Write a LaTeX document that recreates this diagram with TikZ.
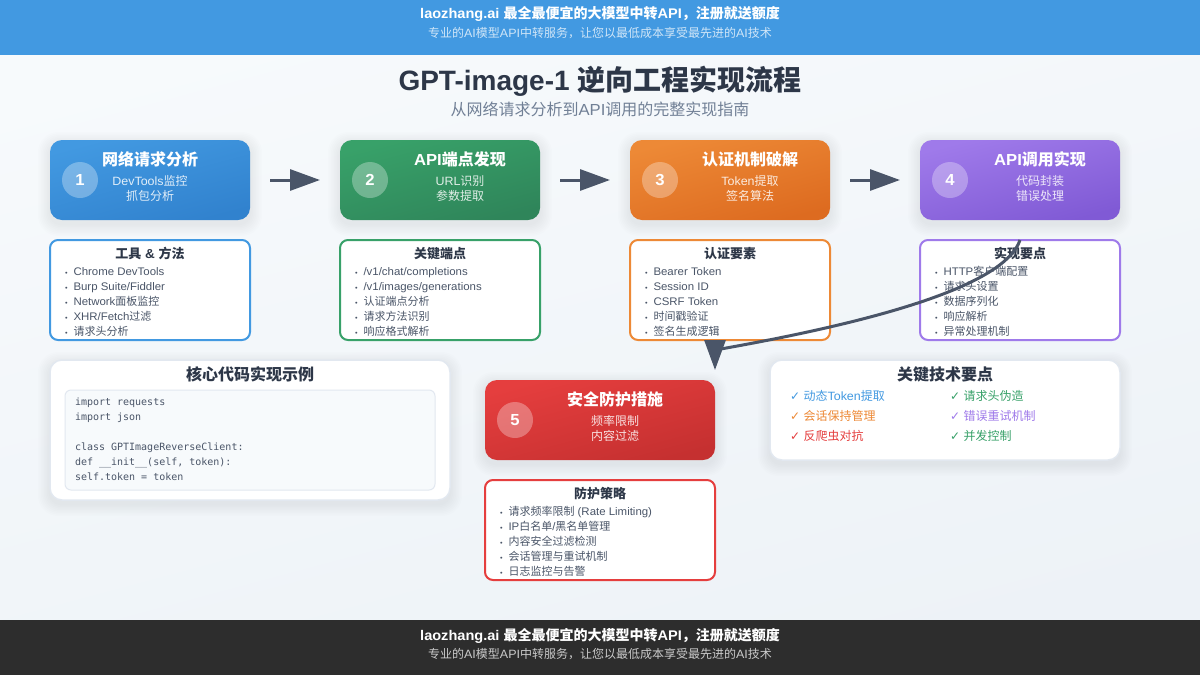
\documentclass[tikz,border=0pt]{standalone}
\usepackage{fontspec}
\setmainfont[FakeStretch=1.04]{Liberation Sans}
\newfontfamily\cjk{Noto Sans CJK SC}
\newfontfamily\plainsans{Liberation Sans}
\newfontfamily\codefont{DejaVu Sans Mono}
\newfontfamily\symfont{DejaVu Sans}
\usetikzlibrary{arrows.meta}
\XeTeXinterchartokenstate=1
\newcount\cjkc
\cjkc="3000
\loop\XeTeXcharclass\cjkc=7 \ifnum\cjkc<"9FFF \advance\cjkc by 1 \repeat
\cjkc="FF00
\loop\XeTeXcharclass\cjkc=7 \ifnum\cjkc<"FFEF \advance\cjkc by 1 \repeat
\XeTeXinterchartoks 0 7 = {\begingroup\cjk}
\XeTeXinterchartoks 4095 7 = {\begingroup\cjk}
\XeTeXinterchartoks 7 0 = {\endgroup}
\XeTeXinterchartoks 7 4095 = {\endgroup}
\definecolor{ink}{HTML}{2D3748}
\definecolor{slate}{HTML}{4A5568}
\definecolor{mist}{HTML}{718096}
\definecolor{edge}{HTML}{E2E8F0}
\definecolor{bgA}{HTML}{F7FAFC}
\definecolor{bgB}{HTML}{EDF2F7}
\definecolor{barTop}{HTML}{4299E1}
\definecolor{barEnd}{HTML}{2D2D2D}
\definecolor{s1a}{HTML}{4299E1}\definecolor{s1b}{HTML}{3182CE}
\definecolor{s2a}{HTML}{38A169}\definecolor{s2b}{HTML}{2F855A}
\definecolor{s3a}{HTML}{ED8936}\definecolor{s3b}{HTML}{DD6B20}
\definecolor{s4a}{HTML}{9F7AEA}\definecolor{s4b}{HTML}{805AD5}
\definecolor{s5a}{HTML}{E53E3E}\definecolor{s5b}{HTML}{C53030}
\newcommand{\softshade}[5]{\foreach \k in {1,...,8}{\fill[black, opacity=.007, rounded corners=#5+\k pt] (#1-\k*1.5,#2+4-\k*1.5) rectangle (#3+\k*1.5,#4+4+\k*1.5);}}
\begin{document}
\begin{tikzpicture}[x=1pt, y=-1pt, every node/.style={inner sep=0pt, outer sep=0pt},
	stepbox/.style={anchor=north west, minimum height=80pt, rounded corners=12pt},
	descbox/.style={anchor=north west, minimum height=100pt, rounded corners=8pt, fill=white, line width=2pt},
	panel/.style={anchor=north west, rounded corners=12pt, fill=white, draw=edge, line width=1.5pt},
	codebox/.style={anchor=north west, rounded corners=6pt, fill=bgA, draw=edge, line width=1pt},
	numdot/.style={circle, minimum size=36pt, fill=white, fill opacity=.3, text opacity=1, text=white, font=\fontsize{16}{18}\selectfont\bfseries},
	ttl/.style={anchor=base, text=white, font=\fontsize{16}{18}\selectfont\bfseries},
	subt/.style={anchor=base, text=white, text opacity=.85, font=\fontsize{12}{14}\selectfont},
	hd/.style={anchor=base, text=ink, font=\fontsize{13}{15}\selectfont\bfseries},
	bighd/.style={anchor=base, text=ink, font=\fontsize{16}{18}\selectfont\bfseries},
	itm/.style={anchor=base west, text=slate, font=\fontsize{11}{13}\selectfont},
	codeln/.style={anchor=base west, text=slate, font=\fontsize{10}{12}\selectfont\codefont},
	keyln/.style={anchor=base west, font=\fontsize{12}{14}\selectfont},
	barA/.style={anchor=base, text=white, font=\fontsize{14}{16}\selectfont\bfseries},
	barB/.style={anchor=base, text=white, text opacity=.75, font=\fontsize{12}{14}\selectfont},
	flow/.style={draw=slate, line width=3pt, -{Triangle[length=30pt,width=21pt,fill=slate]}}]
\useasboundingbox (0,0) rectangle (1200,675);
\shade[top color=bgA, bottom color=bgB, shading angle=15] (0,0) rectangle (1200,675);
\node[anchor=north west, minimum width=1200pt, minimum height=55pt, fill=barTop] (topbar) at (0,0) {};
\node[anchor=north west, minimum width=1200pt, minimum height=55pt, fill=barEnd] (endbar) at (0,620) {};
\foreach \y/\a/\b/\n in {18/37/topA/topB, 640/658/endA/endB}{
	\node[barA] (\n) at (600,\y) {laozhang.ai 最全最便宜的大模型中转API，注册就送额度};
	\node[barB] (\n x) at (600,\a) {专业的AI模型API中转服务，让您以最低成本享受最先进的AI技术};}
\node[anchor=base, text=ink, font=\fontsize{28}{32}\selectfont\bfseries\plainsans] (title) at (600,90) {GPT-image-1 逆向工程实现流程};
\node[anchor=base, text=mist, font=\fontsize{16}{18}\selectfont] (subtitle) at (600,115) {从网络请求分析到API调用的完整实现指南};
\foreach \i/\x/\y/\w/\tx/\ttext/\sa/\sb/\hdr/\items in {
	1/50/140/200/150/网络请求分析/DevTools监控/抓包分析/工具 \& 方法/{Chrome DevTools,Burp Suite/Fiddler,Network面板监控,XHR/Fetch过滤,请求头分析},
	2/340/140/200/460/API端点发现/URL识别/参数提取/关键端点/{/v1/chat/completions,/v1/images/generations,认证端点分析,请求方法识别,响应格式解析},
	3/630/140/200/750/认证机制破解/Token提取/签名算法/认证要素/{Bearer Token,Session ID,CSRF Token,时间戳验证,签名生成逻辑},
	4/920/140/200/1040/API调用实现/代码封装/错误处理/实现要点/{HTTP客户端配置,请求头设置,数据序列化,响应解析,异常处理机制},
	5/485/380/230/615/安全防护措施/频率限制/内容过滤/防护策略/{请求频率限制 (Rate Limiting),IP白名单/黑名单管理,内容安全过滤检测,会话管理与重试机制,日志监控与告警}}{
	\softshade{\x}{\y}{\x+\w}{\y+80}{12}
	\node[stepbox, minimum width=\w pt, top color=s\i a, bottom color=s\i b, shading angle=15] (step\i) at (\x,\y) {};
	\node[numdot] (num\i) at (\x+30,\y+40) {\raisebox{-2.5pt}{\i}};
	\node[ttl] (ttl\i) at (\tx,\y+25) {\ttext};
	\node[subt] (sa\i) at (\tx,\y+45) {\sa};
	\node[subt] (sb\i) at (\tx,\y+60) {\sb};
	\node[descbox, minimum width=\w pt, draw=s\i a] (desc\i) at (\x,\y+100) {};
	\node[hd] (hd\i) at (\x+\w/2,\y+118) {\hdr};
	\foreach \t [count=\j] in \items {\node[itm] (it\i\j) at (\x+15,\y+120+15*\j) {\makebox[8.5pt][l]{\fontsize{7}{7}\selectfont •}\t};}
}
\softshade{50}{360}{450}{500}{12}
\node[panel, minimum width=400pt, minimum height=140pt] (codepanel) at (50,360) {};
\node[bighd] (codehd) at (250,380) {核心代码实现示例};
\node[codebox, minimum width=370pt, minimum height=100pt] (codeinner) at (65,390) {};
\foreach \y/\t in {405/import requests, 420/import json, 450/class GPTImageReverseClient:, 465/{def \_\_init\_\_(self, token):}, 480/self.token = token}{\node[codeln] (cl\y) at (75,\y) {\t};}
\softshade{770}{360}{1120}{460}{12}
\node[panel, minimum width=350pt, minimum height=100pt] (keypanel) at (770,360) {};
\node[bighd] (keyhd) at (945,380) {关键技术要点};
\foreach \n/\x/\y/\c/\t in {a/790/400/s1a/动态Token提取, b/790/420/s3a/会话保持管理, c/790/440/s5a/反爬虫对抗, d/950/400/s2a/请求头伪造, e/950/420/s4a/错误重试机制, f/950/440/s2a/并发控制}{
	\node[keyln, text=\c] (key\n) at (\x,\y) {{\symfont ✓}\hspace{3.5pt}\t};}
\foreach \a/\b in {1/2,2/3,3/4}{\draw[flow, shorten <=20pt, shorten >=20pt] (step\a) -- (step\b);}
\coordinate (out4) at (1020,240);
\coordinate (in5) at (715,350);
\coordinate (base5) at (715,340);
\coordinate (tip5) at (715,370);
\draw[draw=slate, line width=3pt] (out4) .. controls (1006.67,280) and (905,316.67) .. (in5);
\draw[flow] (base5) -- (tip5);
\end{tikzpicture}
\end{document}
